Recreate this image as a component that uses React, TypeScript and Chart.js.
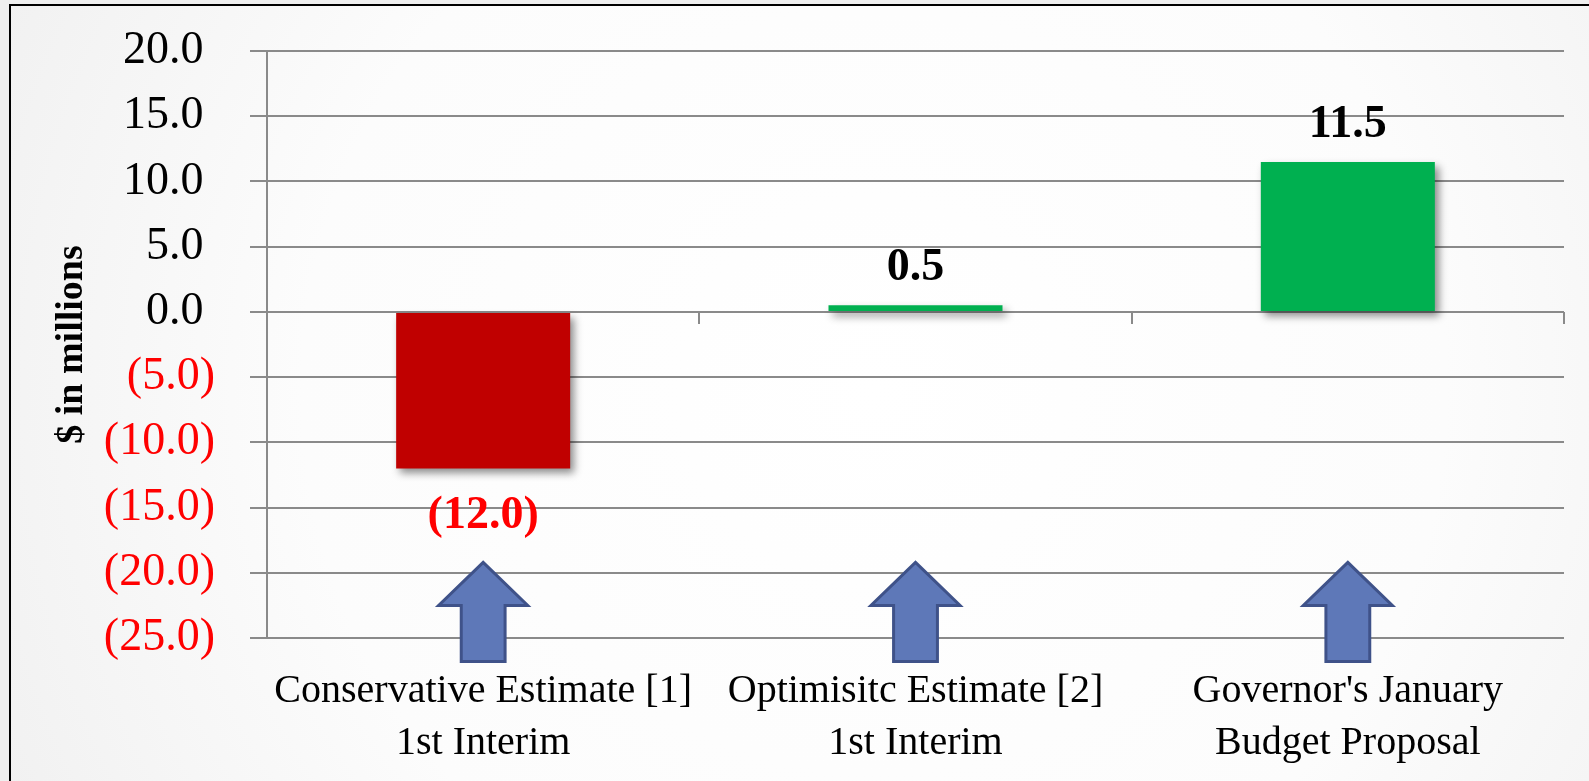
import React, { useEffect, useRef } from "react";
import { Chart, registerables } from "chart.js";

Chart.register(...registerables);

// ---- data ----
const categories: string[][] = [
  ["Conservative Estimate [1]", "1st Interim"],
  ["Optimisitc Estimate [2]", "1st Interim"],
  ["Governor's January", "Budget Proposal"],
];
const values: number[] = [-12.0, 0.5, 11.5];
const barColors: string[] = ["#C00000", "#00B050", "#00B050"];
const yMin = -25;
const yMax = 20;
const yStep = 5;
const yTitle = "$ in millions";
// arrow decoration (in axis units)
const arrowTip = -19.2;
const arrowHeadBase = -22.5;
const arrowBottom = -26.8;

const FONT = "'Liberation Serif', 'Times New Roman', serif";
const GRID = "#8a8a8a";

const fmt = (v: number, pad: boolean) =>
  v < 0 ? `(${Math.abs(v).toFixed(1)})` : v.toFixed(1) + (pad ? "\u2008" : "");

const bgPlugin = {
  id: "bgFrame",
  beforeDraw(chart: any) {
    const { ctx, width, height } = chart;
    ctx.save();
    ctx.fillStyle = "#efefef";
    ctx.fillRect(0, 0, width, height);
    const g = ctx.createRadialGradient(width * 0.55, height * 0.5, 0, width * 0.55, height * 0.5, width * 0.6);
    g.addColorStop(0, "#ffffff");
    g.addColorStop(0.6, "#fcfcfc");
    g.addColorStop(1, "#f1f1f1");
    ctx.fillStyle = g;
    ctx.fillRect(10, 5, width - 10, height - 5);
    ctx.strokeStyle = "#000";
    ctx.lineWidth = 2;
    ctx.beginPath();
    ctx.moveTo(10, height + 2);
    ctx.lineTo(10, 5);
    ctx.lineTo(width + 2, 5);
    ctx.stroke();
    ctx.restore();
  },
};

const shadowLabelPlugin = {
  id: "shadowLabels",
  beforeDatasetsDraw(chart: any) {
    const ctx = chart.ctx;
    ctx.save();
    ctx.shadowColor = "rgba(0,0,0,0.45)";
    ctx.shadowBlur = 8;
    ctx.shadowOffsetX = 4;
    ctx.shadowOffsetY = 5;
  },
  afterDatasetsDraw(chart: any) {
    const ctx = chart.ctx;
    ctx.restore();
    // category tick marks on the zero line
    const xs = chart.scales.x;
    const ys = chart.scales.y;
    const y0 = ys.getPixelForValue(0);
    ctx.save();
    ctx.strokeStyle = GRID;
    ctx.lineWidth = 2;
    const half = (xs.getPixelForValue(1) - xs.getPixelForValue(0)) / 2;
    for (let i = 0; i < categories.length; i++) {
      const x = Math.round(xs.getPixelForValue(i) + half);
      ctx.beginPath();
      ctx.moveTo(x, y0);
      ctx.lineTo(x, y0 + 12);
      ctx.stroke();
    }
    ctx.restore();
    // data labels
    const meta = chart.getDatasetMeta(0);
    ctx.save();
    ctx.font = `bold 46px ${FONT}`;
    ctx.textAlign = "center";
    ctx.textBaseline = "alphabetic";
    meta.data.forEach((bar: any, i: number) => {
      const v = values[i];
      const top = Math.min(bar.y, bar.base);
      const bottom = Math.max(bar.y, bar.base);
      if (v < 0) {
        ctx.fillStyle = "#FF0000";
        ctx.fillText(fmt(v, false), bar.x, bottom + 60);
      } else {
        ctx.fillStyle = "#000000";
        ctx.fillText(fmt(v, false), bar.x, top - 25);
      }
    });
    ctx.restore();
  },
};

const arrowPlugin = {
  id: "arrows",
  afterDraw(chart: any) {
    const { ctx } = chart;
    const ys = chart.scales.y;
    const meta = chart.getDatasetMeta(0);
    const yT = ys.getPixelForValue(arrowTip);
    const yH = ys.getPixelForValue(arrowHeadBase);
    const yB = ys.getPixelForValue(arrowBottom);
    ctx.save();
    ctx.fillStyle = "#5E78B8";
    ctx.strokeStyle = "#3F5289";
    ctx.lineWidth = 3;
    ctx.lineJoin = "miter";
    meta.data.forEach((bar: any) => {
      const cx = bar.x;
      const hw = bar.width * 0.256;
      const sw = bar.width * 0.126;
      ctx.beginPath();
      ctx.moveTo(cx, yT);
      ctx.lineTo(cx + hw, yH);
      ctx.lineTo(cx + sw, yH);
      ctx.lineTo(cx + sw, yB);
      ctx.lineTo(cx - sw, yB);
      ctx.lineTo(cx - sw, yH);
      ctx.lineTo(cx - hw, yH);
      ctx.closePath();
      ctx.fill();
      ctx.stroke();
    });
    ctx.restore();
  },
};

export default function App() {
  const ref = useRef<HTMLCanvasElement | null>(null);
  useEffect(() => {
    document.body.style.margin = "0";
    const canvas = ref.current;
    if (!canvas) return;
    const chart = new Chart(canvas, {
      type: "bar",
      data: {
        labels: categories as any,
        datasets: [
          {
            data: values,
            backgroundColor: barColors,
            borderWidth: 0,
            categoryPercentage: 1,
            barPercentage: 0.4025,
          },
        ],
      },
      options: {
        animation: false,
        responsive: true,
        maintainAspectRatio: false,
        devicePixelRatio: 1,
        layout: { padding: { top: 51, right: 25, bottom: 0, left: 0 } },
        plugins: { legend: { display: false }, tooltip: { enabled: false } },
        scales: {
          x: {
            position: "bottom",
            grid: { display: false, drawTicks: false },
            border: { display: false },
            ticks: {
              color: "#000",
              font: { family: FONT, size: 40, lineHeight: 1.3 },
              padding: 27,
              maxRotation: 0,
              minRotation: 0,
              autoSkip: false,
            },
            afterFit(scale: any) {
              scale.height = 143;
              scale.paddingLeft = 0;
              scale.paddingRight = 0;
            },
          },
          y: {
            min: yMin,
            max: yMax,
            grid: { color: GRID, lineWidth: 2, tickLength: 17, drawTicks: true },
            border: { display: true, color: GRID, width: 2 },
            ticks: {
              stepSize: yStep,
              padding: 35,
              font: { family: FONT, size: 46 },
              color: (c: any) => (c.tick && c.tick.value < 0 ? "#FF0000" : "#000000"),
              callback: (v: any) => fmt(Number(v), true),
            },
            title: {
              display: true,
              text: yTitle,
              color: "#000",
              font: { family: FONT, size: 38, weight: "bold" },
              padding: { top: 49, bottom: 0 },
            },
            afterFit(scale: any) {
              scale.width = 267;
              scale.paddingTop = 0;
              scale.paddingBottom = 0;
            },
          },
        },
      },
      plugins: [bgPlugin, shadowLabelPlugin, arrowPlugin],
    });
    return () => chart.destroy();
  }, []);
  return (
    <div style={{ width: 1589, height: 781, position: "relative" }}>
      <canvas ref={ref} />
    </div>
  );
}
